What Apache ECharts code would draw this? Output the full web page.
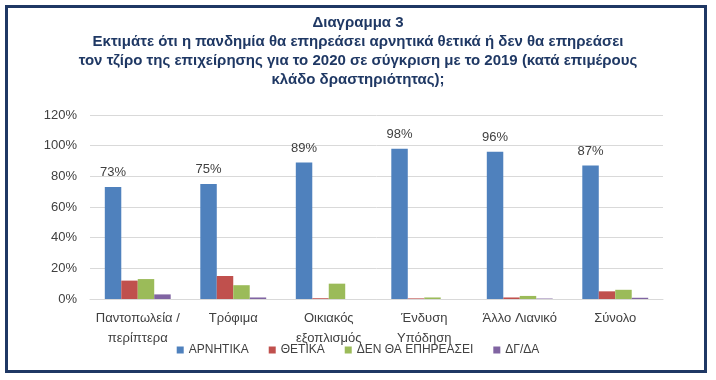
<!DOCTYPE html>
<html><head><meta charset="utf-8">
<script src="https://cdn.jsdelivr.net/npm/echarts@6/dist/echarts.min.js"></script>
<style>html,body{margin:0;padding:0;background:#fff}#c{width:716px;height:380px}</style>
</head><body><div id="c"></div>
<script>
var categories = ["Παντοπωλεία /\nπερίπτερα", "Τρόφιμα", "Οικιακός\nεξοπλισμός", "Ένδυση\nΥπόδηση", "Άλλο Λιανικό", "Σύνολο"];
var seriesNames = ["ΑΡΝΗΤΙΚΑ", "ΘΕΤΙΚΑ", "ΔΕΝ ΘΑ ΕΠΗΡΕΑΣΕΙ", "ΔΓ/ΔΑ"];
var arnitika = [73, 75, 89, 98, 96, 87];
var thetika = [12, 15, 0.5, 0.4, 1, 5];
var denTha = [13, 9, 10, 1, 2, 6];
var dgda = [3, 1, 0, 0, 0.3, 0.8];
var yTicks = [0, 20, 40, 60, 80, 100, 120];
var titleLines = ["Διαγραμμα 3", "Εκτιμάτε ότι η πανδημία θα επηρεάσει αρνητικά θετικά ή δεν θα επηρεάσει", "τον τζίρο της επιχείρησης για το 2020 σε σύγκριση με το 2019 (κατά επιμέρους", "κλάδο δραστηριότητας);"];

var colors = ["#4F81BD", "#C0504D", "#9BBB59", "#8064A2"];
var font = "Liberation Sans";
var chart = echarts.init(document.getElementById('c'));
var values = [arnitika, thetika, denTha, dgda];
var series = values.map(function (v, i) {
  return {
    name: seriesNames[i], type: 'bar', data: v, barGap: '0%', barCategoryGap: '31%',
    itemStyle: { color: colors[i] },
    label: i === 0 ? { show: true, position: 'top', distance: 8, formatter: '{c}%', color: '#404040', fontSize: 13, fontFamily: font } : { show: false }
  };
});
chart.setOption({
  animation: false,
  color: colors,
  title: {
    text: titleLines.join('\n'), left: 'center', top: 8,
    textStyle: { fontFamily: font, fontSize: 15, fontWeight: 'bold', color: '#1F3864', lineHeight: 19 }
  },
  graphic: [{ type: 'rect', shape: { x: 6.5, y: 6.5, width: 699, height: 365 }, style: { fill: 'none', stroke: '#1F3864', lineWidth: 3 }, z: 100 }],
  legend: {
    data: seriesNames, top: 339, left: 'center', itemWidth: 7, itemHeight: 7, itemGap: 20,
    icon: 'rect', textStyle: { fontFamily: font, fontSize: 12, color: '#404040' }
  },
  grid: { left: 90, right: 53, top: 115, bottom: 81 },
  xAxis: {
    type: 'category', data: categories,
    axisLine: { lineStyle: { color: '#D9D9D9' } }, axisTick: { show: false },
    axisLabel: { fontFamily: font, fontSize: 13, color: '#404040', margin: 9, lineHeight: 20, interval: 0 }
  },
  yAxis: {
    type: 'value', min: yTicks[0], max: yTicks[yTicks.length - 1], interval: 20,
    axisLine: { show: false }, axisTick: { show: false },
    splitLine: { lineStyle: { color: '#D9D9D9' } },
    axisLabel: { fontFamily: font, fontSize: 13, color: '#404040', margin: 13, formatter: '{value}%' }
  },
  series: series
});
</script></body></html>
